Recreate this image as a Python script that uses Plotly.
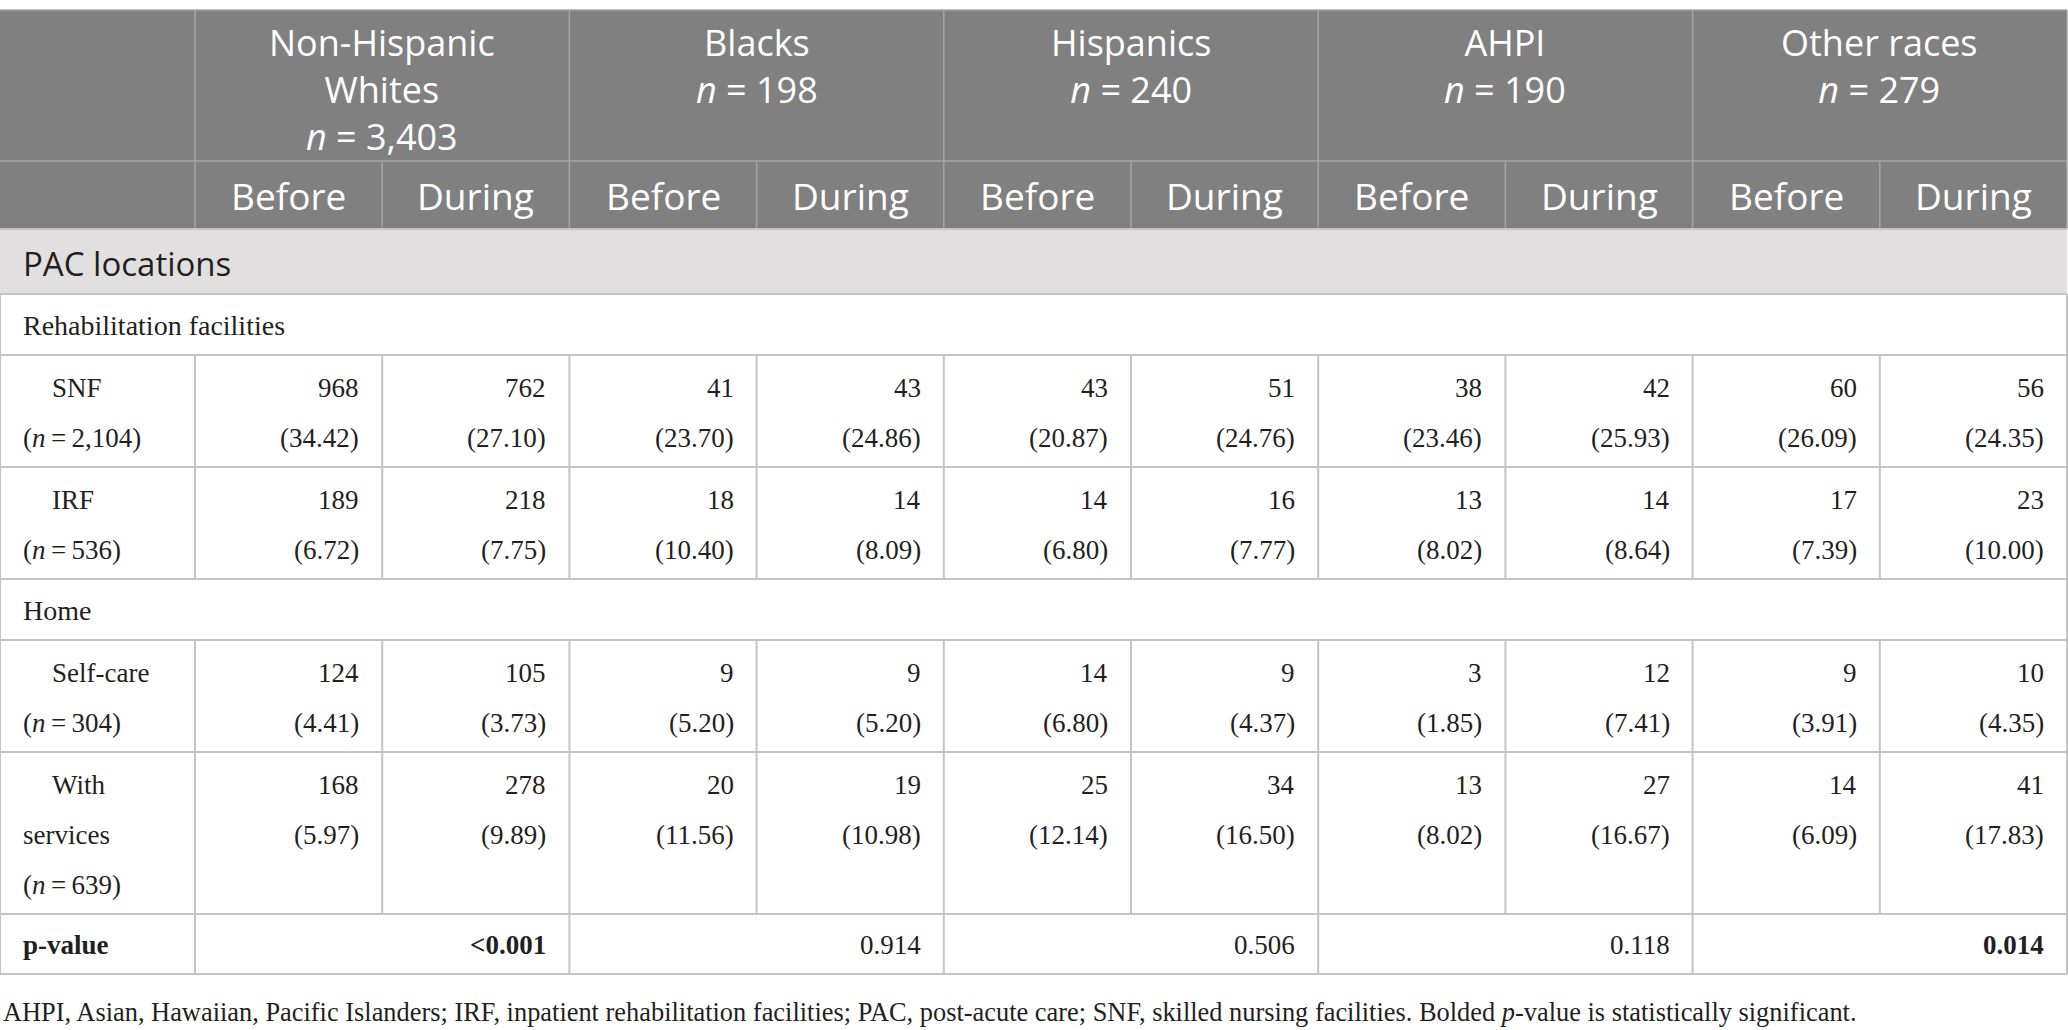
import textwrap

import plotly.graph_objects as go

# ---- table content ----
groups = ["Non-Hispanic Whites", "Blacks", "Hispanics", "AHPI", "Other races"]
group_n = ["3,403", "198", "240", "190", "279"]
periods = ["Before", "During"]

section = "PAC locations"
categories = ["Rehabilitation facilities", "Home"]
row_category = [0, 0, 1, 1]
row_names = ["SNF", "IRF", "Self-care", "With services"]
row_n = ["2,104", "536", "304", "639"]

# order of values: NHW before, NHW during, Blacks before, Blacks during, ...
snf_count = [968, 762, 41, 43, 43, 51, 38, 42, 60, 56]
snf_pct = [34.42, 27.10, 23.70, 24.86, 20.87, 24.76, 23.46, 25.93, 26.09, 24.35]
irf_count = [189, 218, 18, 14, 14, 16, 13, 14, 17, 23]
irf_pct = [6.72, 7.75, 10.40, 8.09, 6.80, 7.77, 8.02, 8.64, 7.39, 10.00]
selfcare_count = [124, 105, 9, 9, 14, 9, 3, 12, 9, 10]
selfcare_pct = [4.41, 3.73, 5.20, 5.20, 6.80, 4.37, 1.85, 7.41, 3.91, 4.35]
services_count = [168, 278, 20, 19, 25, 34, 13, 27, 14, 41]
services_pct = [5.97, 9.89, 11.56, 10.98, 12.14, 16.50, 8.02, 16.67, 6.09, 17.83]

counts = [snf_count, irf_count, selfcare_count, services_count]
pcts = [snf_pct, irf_pct, selfcare_pct, services_pct]

p_label = "p-value"
p_values = ["<0.001", "0.914", "0.506", "0.118", "0.014"]
p_bold = [True, False, False, False, True]

footnote = ("AHPI, Asian, Hawaiian, Pacific Islanders; IRF, inpatient rehabilitation "
            "facilities; PAC, post-acute care; SNF, skilled nursing facilities. "
            "Bolded <i>p</i>-value is statistically significant.")

# ---- look ----
W, H = 2068, 1030
SANS = "Open Sans"
SERIF = "Liberation Serif"
HEAD_BG = "#7f807f"
HEAD_LINE = "#a4a5a4"
SECTION_BG = "#e1dfe0"
GRID = "#c4c4c4"
INK = "#231f20"

x_right = 2067
label_w = 195
col_w = (x_right - label_w) / 10
col_edges = [label_w + i * col_w for i in range(11)]
pad = 21
line_h = 50
head_size = 36

fig = go.Figure()
shapes = []
notes = []


def hline(y, x0, x1, color=GRID, width=2):
    shapes.append(dict(type="line", x0=x0, x1=x1, y0=y, y1=y,
                       line=dict(color=color, width=width)))


def vline(x, y0, y1, color=GRID, width=2):
    shapes.append(dict(type="line", x0=x, x1=x, y0=y0, y1=y1,
                       line=dict(color=color, width=width)))


def rect(x0, y0, x1, y1, color):
    shapes.append(dict(type="rect", x0=x0, x1=x1, y0=y0, y1=y1,
                       fillcolor=color, line=dict(width=0), layer="below"))


def text(x, y, s, anchor="left", size=27, family=SERIF, color=INK):
    notes.append(dict(x=x, y=y, text=s, xanchor=anchor, yanchor="middle",
                      showarrow=False, font=dict(family=family, size=size, color=color)))


# header rows
top = 10
h1_bot = top + 151
h2_bot = h1_bot + 68
rect(0, top, x_right, h2_bot, HEAD_BG)
hline(top, 0, x_right, HEAD_LINE, 1.5)
hline(h1_bot, 0, x_right, HEAD_LINE, 1.5)
for i, g in enumerate(groups):
    cx = (col_edges[2 * i] + col_edges[2 * i + 2]) / 2
    lines = textwrap.wrap(g, 14) + ["<i>n</i> = " + group_n[i]]
    # one multi-line label, first line pinned near the top of the cell
    mid = top + 33 + (len(lines) - 1) * head_size * 1.3 / 2
    text(cx, mid, "<br>".join(lines), "center", head_size, SANS, "white")
    for j, p in enumerate(periods):
        sx = (col_edges[2 * i + j] + col_edges[2 * i + j + 1]) / 2
        text(sx, (h1_bot + h2_bot) / 2, p, "center", 37, SANS, "white")
for i, x in enumerate(col_edges):
    if i % 2 == 0:
        vline(x, top, h2_bot, HEAD_LINE, 1.5)
    else:
        vline(x, h1_bot, h2_bot, HEAD_LINE, 1.5)

# section row
sec_bot = h2_bot + 65
rect(0, h2_bot, x_right, sec_bot, SECTION_BG)
text(pad, (h2_bot + sec_bot) / 2 + 2, section, "left", 33, SANS, INK)
hline(h2_bot, 0, x_right)

# body rows
y = sec_bot
prev_cat = None
for r, name in enumerate(row_names):
    if row_category[r] != prev_cat:
        prev_cat = row_category[r]
        hline(y, 0, x_right)
        text(pad, y + 31, categories[prev_cat], size=28)
        vline(0, y, y + 61)
        vline(x_right, y, y + 61)
        y += 61
    label_lines = textwrap.wrap(name, 10) + ["(<i>n</i>\u2009=\u2009" + row_n[r] + ")"]
    row_h = 12 + line_h * len(label_lines)
    hline(y, 0, x_right)
    for x in [0] + col_edges:
        vline(x, y, y + row_h)
    for k, ln in enumerate(label_lines):
        text(pad + (29 if k == 0 else 0), y + 33 + k * line_h, ln)
    for c in range(10):
        xr = col_edges[c + 1] - pad
        text(xr, y + 33, str(counts[r][c]), "right")
        text(xr, y + 33 + line_h, f"({pcts[r][c]:.2f})", "right")
    y += row_h

# p-value row
hline(y, 0, x_right)
text(pad, y + 31, "<b>" + p_label + "</b>")
for i, pv in enumerate(p_values):
    s = "<b>" + pv + "</b>" if p_bold[i] else pv
    text(col_edges[2 * i + 2] - pad, y + 31, s, "right")
for i, x in enumerate([0] + col_edges):
    if i == 0 or (i - 1) % 2 == 0:
        vline(x, y, y + 60)
y += 60
hline(y, 0, x_right)

# footnote
text(1, y + 38, footnote, "left", 26.4)

fig.update_layout(
    width=W, height=H,
    margin=dict(l=0, r=0, t=0, b=0),
    paper_bgcolor="white", plot_bgcolor="white",
    xaxis=dict(range=[0, W], visible=False, fixedrange=True),
    yaxis=dict(range=[H, 0], visible=False, fixedrange=True),
    shapes=shapes, annotations=notes, showlegend=False,
)

fig.write_html("out.html", config={"displayModeBar": False},
               post_script="document.body.style.margin='0';")
